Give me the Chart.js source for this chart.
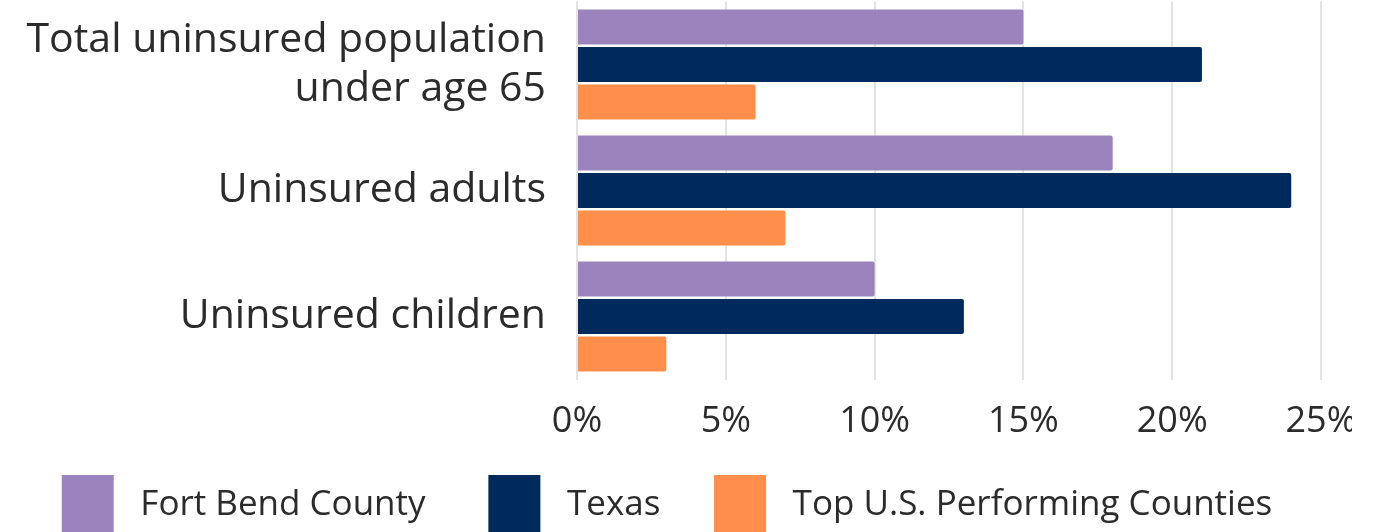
<!DOCTYPE html>
<html>
<head>
<meta charset="utf-8">
<script src="https://cdn.jsdelivr.net/npm/chart.js@4/dist/chart.umd.min.js"></script>
<style>
  html, body { margin: 0; padding: 0; background: #fff; overflow: hidden; }
  #wrap { position: absolute; left: 0; top: 0; width: 1352px; height: 545px; }
</style>
</head>
<body>
<div id="wrap"><canvas id="c"></canvas></div>
<script>
const categories = [["Total uninsured population", "under age 65"], "Uninsured adults", "Uninsured children"];
const seriesNames = ["Fort Bend County", "Texas", "Top U.S. Performing Counties"];
const fortBend = [15, 18, 10];
const texas = [21, 24, 13];
const topCounties = [6, 7, 3];
const tickValues = [0, 5, 10, 15, 20, 25];

const colors = ["#9B84BD", "#002A5C", "#FF8F4B"];
const FONT = "'Open Sans', 'Noto Sans', sans-serif";
const TEXT = "#2b2b2b";
const trailing = ['   ', '  ', ''];

new Chart(document.getElementById('c'), {
  type: 'bar',
  data: {
    labels: categories,
    datasets: [
      { label: seriesNames[0], data: fortBend, backgroundColor: colors[0] },
      { label: seriesNames[1], data: texas, backgroundColor: colors[1] },
      { label: seriesNames[2], data: topCounties, backgroundColor: colors[2] }
    ]
  },
  options: {
    indexAxis: 'y',
    responsive: true,
    maintainAspectRatio: false,
    animation: false,
    datasets: {
      bar: { categoryPercentage: 0.893, barPercentage: 0.933, borderRadius: 2 }
    },
    layout: { padding: { top: 1.5, right: 31, bottom: 0, left: 13 } },
    scales: {
      x: {
        min: 0, max: 25,
        afterBuildTicks: (s) => { s.ticks = tickValues.map(v => ({ value: v })); },
        afterFit: (s) => { s.height = 60; s.paddingRight = 0; s.paddingLeft = 0; },
        grid: { color: '#e3e3e3', lineWidth: 2, drawTicks: false },
        border: { display: false },
        ticks: {
          padding: 21,
          color: TEXT,
          font: { family: FONT, size: 36, lineHeight: 1.2 },
          callback: (v) => v + '%'
        }
      },
      y: {
        afterFit: (s) => { s.width = 564; s.paddingTop = 0; s.paddingBottom = 0; },
        grid: { display: false, drawTicks: false },
        border: { display: false },
        ticks: {
          autoSkip: false,
          padding: 31,
          color: TEXT,
          font: { family: FONT, size: 41, lineHeight: 1.2 }
        }
      }
    },
    plugins: {
      tooltip: { enabled: false },
      legend: {
        position: 'bottom',
        labels: {
          boxWidth: 52,
          boxHeight: 60,
          padding: 35.5,
          color: TEXT,
          font: { family: FONT, size: 35 },
          generateLabels: (chart) => {
            const items = Chart.defaults.plugins.legend.labels.generateLabels(chart);
            items.forEach((it, i) => {
              it.text = ' ' + it.text + trailing[i];
              it.lineWidth = 0;
            });
            return items;
          }
        }
      }
    }
  }
});
</script>
</body>
</html>
